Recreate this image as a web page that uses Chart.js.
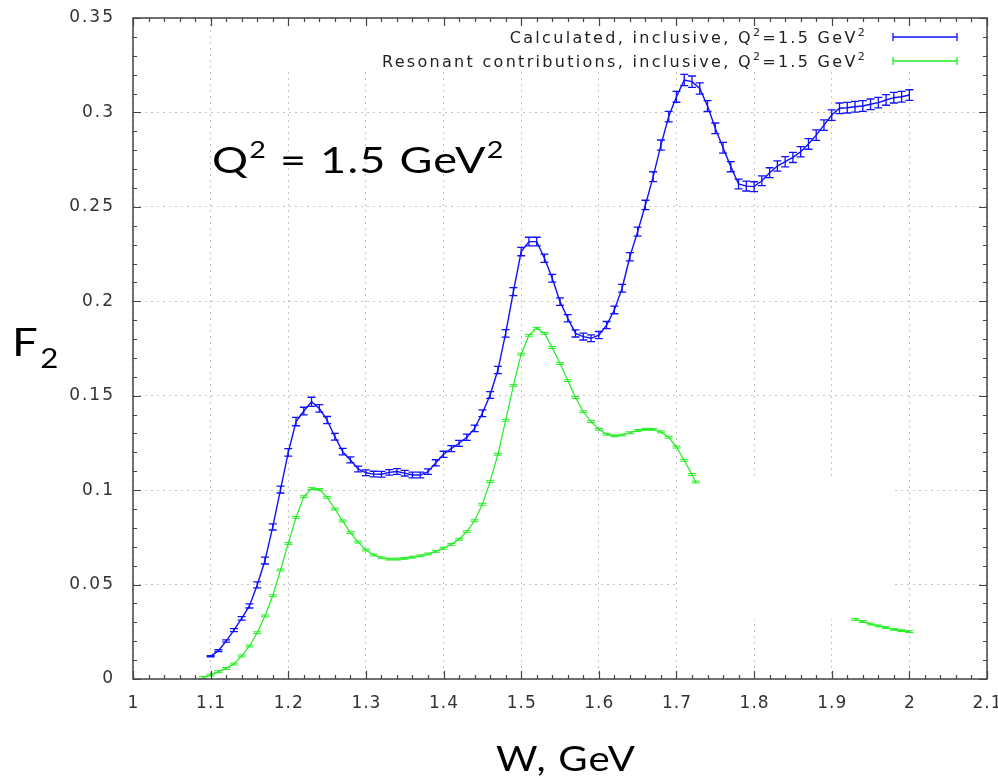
<!DOCTYPE html>
<html>
<head>
<meta charset="utf-8">
<script src="https://cdn.jsdelivr.net/npm/chart.js@4.4.1/dist/chart.umd.min.js"></script>
<style>
  html, body { margin: 0; padding: 0; background: #fff; }
  #wrap { width: 998px; height: 777px; position: relative; }
</style>
</head>
<body>
<div id="wrap"><canvas id="f2chart"></canvas></div>
<script>
// W values (GeV) where the inclusive structure function was calculated
const wCalc = [
  1.10, 1.11, 1.12, 1.13, 1.14, 1.15, 1.16, 1.17, 1.18, 1.19,
  1.20, 1.21, 1.22, 1.23, 1.24, 1.25, 1.26, 1.27, 1.28, 1.29,
  1.30, 1.31, 1.32, 1.33, 1.34, 1.35, 1.36, 1.37, 1.38, 1.39,
  1.40, 1.41, 1.42, 1.43, 1.44, 1.45, 1.46, 1.47, 1.48, 1.49,
  1.50, 1.51, 1.52, 1.53, 1.54, 1.55, 1.56, 1.57, 1.58, 1.59,
  1.60, 1.61, 1.62, 1.63, 1.64, 1.65, 1.66, 1.67, 1.68, 1.69,
  1.70, 1.71, 1.72, 1.73, 1.74, 1.75, 1.76, 1.77, 1.78, 1.79,
  1.80, 1.81, 1.82, 1.83, 1.84, 1.85, 1.86, 1.87, 1.88, 1.89,
  1.90, 1.91, 1.92, 1.93, 1.94, 1.95, 1.96, 1.97, 1.98, 1.99,
  2.00
];
// calculated F2, inclusive, Q^2 = 1.5 GeV^2
const f2Calc = [
  0.0120, 0.0150, 0.0201, 0.0259, 0.0321, 0.0387, 0.0498, 0.0627, 0.0805, 0.1003,
  0.1200, 0.1363, 0.1419, 0.1468, 0.1433, 0.1371, 0.1283, 0.1204, 0.1160, 0.1112,
  0.1092, 0.1085, 0.1084, 0.1094, 0.1099, 0.1090, 0.1080, 0.1080, 0.1098, 0.1145,
  0.1190, 0.1220, 0.1248, 0.1280, 0.1327, 0.1407, 0.1504, 0.1636, 0.1830, 0.2051,
  0.2263, 0.2316, 0.2316, 0.2228, 0.2122, 0.1998, 0.1910, 0.1830, 0.1813, 0.1804,
  0.1821, 0.1874, 0.1954, 0.2069, 0.2236, 0.2369, 0.2510, 0.2660, 0.2827, 0.2978,
  0.3083, 0.3172, 0.3163, 0.3127, 0.3034, 0.2916, 0.2813, 0.2713, 0.2621, 0.2610,
  0.2607, 0.2638, 0.2681, 0.2716, 0.2739, 0.2762, 0.2792, 0.2833, 0.2880, 0.2933,
  0.2986, 0.3022, 0.3025, 0.3030, 0.3034, 0.3043, 0.3052, 0.3066, 0.3078, 0.3083,
  0.3092
];
// +/- uncertainty on the calculated F2
const f2CalcErr = [
  0.0003, 0.0005, 0.0006, 0.0008, 0.0009, 0.0011, 0.0016, 0.0018, 0.0016, 0.0018,
  0.0020, 0.0022, 0.0020, 0.0024, 0.0020, 0.0019, 0.0018, 0.0017, 0.0016, 0.0015,
  0.0015, 0.0015, 0.0015, 0.0015, 0.0015, 0.0015, 0.0015, 0.0015, 0.0015, 0.0016,
  0.0016, 0.0016, 0.0016, 0.0017, 0.0017, 0.0018, 0.0018, 0.0019, 0.0020, 0.0021,
  0.0022, 0.0023, 0.0023, 0.0022, 0.0021, 0.0020, 0.0019, 0.0019, 0.0018, 0.0018,
  0.0019, 0.0019, 0.0020, 0.0021, 0.0022, 0.0024, 0.0025, 0.0026, 0.0027, 0.0028,
  0.0029, 0.0030, 0.0030, 0.0030, 0.0029, 0.0028, 0.0028, 0.0027, 0.0026, 0.0026,
  0.0026, 0.0026, 0.0026, 0.0027, 0.0027, 0.0027, 0.0027, 0.0028, 0.0028, 0.0028,
  0.0028, 0.0028, 0.0028, 0.0028, 0.0028, 0.0028, 0.0028, 0.0028, 0.0028, 0.0028,
  0.0028
];

// resonant contributions: low-W branch
const wResLow = [
  1.09, 1.10, 1.11, 1.12, 1.13, 1.14, 1.15, 1.16, 1.17, 1.18, 1.19,
  1.20, 1.21, 1.22, 1.23, 1.24, 1.25, 1.26, 1.27, 1.28, 1.29,
  1.30, 1.31, 1.32, 1.33, 1.34, 1.35, 1.36, 1.37, 1.38, 1.39,
  1.40, 1.41, 1.42, 1.43, 1.44, 1.45, 1.46, 1.47, 1.48, 1.49,
  1.50, 1.51, 1.52, 1.53, 1.54, 1.55, 1.56, 1.57, 1.58, 1.59,
  1.60, 1.61, 1.62, 1.63, 1.64, 1.65, 1.66, 1.67, 1.68, 1.69,
  1.70, 1.71, 1.72, 1.725
];
const f2ResLow = [
  0.0009, 0.0021, 0.0039, 0.0056, 0.0079, 0.0122, 0.0175, 0.0245, 0.0334, 0.0441, 0.0577,
  0.0718, 0.0856, 0.0965, 0.1008, 0.1004, 0.0962, 0.0900, 0.0837, 0.0775, 0.0725,
  0.0683, 0.0657, 0.0642, 0.0635, 0.0635, 0.0639, 0.0645, 0.0652, 0.0662, 0.0676,
  0.0692, 0.0713, 0.0740, 0.0780, 0.0838, 0.0925, 0.1045, 0.1190, 0.1370, 0.1555,
  0.1720, 0.1820, 0.1857, 0.1830, 0.1755, 0.1670, 0.1580, 0.1490, 0.1415, 0.1363,
  0.1322, 0.1296, 0.1287, 0.1292, 0.1304, 0.1316, 0.1322, 0.1322, 0.1308, 0.1280,
  0.1228, 0.1158, 0.1083, 0.1043
];
// resonant contributions: high-W branch
const wResHigh = [1.93, 1.94, 1.95, 1.96, 1.97, 1.98, 1.99, 2.00];
const f2ResHigh = [0.0316, 0.0304, 0.0291, 0.0281, 0.0272, 0.0263, 0.0256, 0.0251];
const resErr = 0.0005;

// axis ticks
const wTicks = [1, 1.1, 1.2, 1.3, 1.4, 1.5, 1.6, 1.7, 1.8, 1.9, 2, 2.1];
const f2Ticks = [0, 0.05, 0.1, 0.15, 0.2, 0.25, 0.3, 0.35];

// region of the frame left empty (no grid behind it)
const blankW = [1.702, 1.981];
const blankF2 = [0.0318, 0.1064];

const BLUE = '#1010ff';
const GREEN = '#20ee20';
const TICK_FONT = '17px "DejaVu Sans"';

const toPoints = (xs, ys) => xs.map((x, i) => ({ x: x, y: ys[i] }));
const fmt = v => String(Math.round(v * 100) / 100);

// white fill behind the legend and the empty block
const clearPlugin = {
  id: 'clearAreas',
  beforeDraw(chart) {
    const ctx = chart.ctx;
    ctx.save();
    ctx.fillStyle = '#fff';
    ctx.fillRect(0, 0, chart.width, chart.height);
    ctx.restore();
  },
  beforeDatasetsDraw(chart) {
    const { ctx, scales: { x, y } } = chart;
    ctx.save();
    ctx.fillStyle = '#fff';
    ctx.fillRect(250, 19, 735, 53);
    const x0 = x.getPixelForValue(blankW[0]), x1 = x.getPixelForValue(blankW[1]);
    const y0 = y.getPixelForValue(blankF2[1]), y1 = y.getPixelForValue(blankF2[0]);
    ctx.fillRect(x0, y0, x1 - x0, y1 - y0);
    ctx.restore();
  }
};

// vertical error bars with caps
const errorBarPlugin = {
  id: 'errorBars',
  afterDatasetsDraw(chart) {
    const { ctx, scales: { x, y } } = chart;
    chart.data.datasets.forEach(ds => {
      if (ds.errors == null) return;
      ctx.save();
      ctx.strokeStyle = ds.borderColor;
      ctx.lineWidth = ds.barWidth || 1.2;
      ds.data.forEach((p, i) => {
        const e = Array.isArray(ds.errors) ? ds.errors[i] : ds.errors;
        if (p.y == null || !e) return;
        const px = x.getPixelForValue(p.x);
        const top = y.getPixelForValue(p.y + e);
        const bot = y.getPixelForValue(p.y - e);
        const cw = ds.capHalf;
        ctx.beginPath();
        ctx.moveTo(px, top); ctx.lineTo(px, bot);
        ctx.moveTo(px - cw, top); ctx.lineTo(px + cw, top);
        ctx.moveTo(px - cw, bot); ctx.lineTo(px + cw, bot);
        ctx.stroke();
      });
      ctx.restore();
    });
  }
};

// strings made of normal / raised / lowered pieces
function richWidth(ctx, parts) {
  let w = 0;
  parts.forEach(p => { ctx.font = p.font; w += ctx.measureText(p.t).width; });
  return w;
}
function drawRich(ctx, parts, x, y, sx) {
  ctx.save();
  ctx.translate(x, y);
  ctx.scale(sx || 1, 1);
  let cx = 0;
  parts.forEach(p => {
    ctx.font = p.font;
    ctx.fillText(p.t, cx, p.dy || 0);
    cx += ctx.measureText(p.t).width;
  });
  ctx.restore();
}

// frame with inward major and minor ticks, tick labels, legend and titles
const framePlugin = {
  id: 'frameAndText',
  afterDraw(chart) {
    const { ctx, chartArea: a, scales: { x, y } } = chart;
    ctx.save();
    ctx.strokeStyle = '#444';
    ctx.lineWidth = 1.5;
    ctx.strokeRect(a.left, a.top, a.right - a.left, a.bottom - a.top);

    ctx.lineWidth = 1.2;
    ctx.beginPath();
    // x ticks every 0.02, major every 0.1
    for (let k = 0; k <= 55; k++) {
      const px = Math.round(x.getPixelForValue(1 + k * 0.02)) + 0.5;
      const len = k % 5 === 0 ? 8 : 4;
      ctx.moveTo(px, a.bottom); ctx.lineTo(px, a.bottom - len);
      ctx.moveTo(px, a.top); ctx.lineTo(px, a.top + len);
    }
    // y ticks every 0.01, major every 0.05
    for (let k = 0; k <= 35; k++) {
      const py = Math.round(y.getPixelForValue(k * 0.01)) + 0.5;
      const len = k % 5 === 0 ? 8 : 4;
      ctx.moveTo(a.left, py); ctx.lineTo(a.left + len, py);
      ctx.moveTo(a.right, py); ctx.lineTo(a.right - len, py);
    }
    ctx.stroke();

    // tick labels
    ctx.fillStyle = '#333';
    ctx.font = TICK_FONT;
    ctx.letterSpacing = '1px';
    ctx.textAlign = 'center';
    ctx.textBaseline = 'top';
    wTicks.forEach(v => ctx.fillText(fmt(v), x.getPixelForValue(v) + 0.5, 695));
    ctx.letterSpacing = '2px';
    ctx.textAlign = 'right';
    ctx.textBaseline = 'middle';
    f2Ticks.forEach(v => ctx.fillText(fmt(v), 115, y.getPixelForValue(v)));

    // legend
    const lf = '16px "DejaVu Sans"', sf = '11px "DejaVu Sans"';
    const entries = [
      { color: BLUE, cy: 37, parts: [
        { t: 'Calculated, inclusive, Q', font: lf }, { t: '2', font: sf, dy: -7 },
        { t: '=1.5 GeV', font: lf }, { t: '2', font: sf, dy: -7 }] },
      { color: GREEN, cy: 61, parts: [
        { t: 'Resonant contributions, inclusive, Q', font: lf }, { t: '2', font: sf, dy: -7 },
        { t: '=1.5 GeV', font: lf }, { t: '2', font: sf, dy: -7 }] }
    ];
    ctx.fillStyle = '#222';
    ctx.letterSpacing = '2.3px';
    ctx.textBaseline = 'alphabetic';
    ctx.textAlign = 'left';
    entries.forEach(en => {
      const w = richWidth(ctx, en.parts);
      drawRich(ctx, en.parts, 867 - w, en.cy + 6);
      ctx.strokeStyle = en.color;
      ctx.lineWidth = 1.3;
      ctx.beginPath();
      ctx.moveTo(893, en.cy); ctx.lineTo(957, en.cy);
      ctx.moveTo(893, en.cy - 4); ctx.lineTo(893, en.cy + 4);
      ctx.moveTo(957, en.cy - 4); ctx.lineTo(957, en.cy + 4);
      ctx.stroke();
    });

    // in-plot annotation and axis titles
    ctx.fillStyle = '#000';
    ctx.letterSpacing = '1px';
    const big = '36px Lato', bigSup = '23px Lato';
    drawRich(ctx, [
      { t: 'Q', font: big }, { t: '2', font: bigSup, dy: -15 },
      { t: ' = 1.5 GeV', font: big }, { t: '2', font: bigSup, dy: -15 }
    ], 212, 173, 1.25);
    ctx.letterSpacing = '2px';
    drawRich(ctx, [
      { t: 'F', font: '38px Lato' }, { t: '2', font: '26px Lato', dy: 12 }
    ], 12, 356, 1.2);
    ctx.letterSpacing = '1px';
    ctx.font = '34px Lato';
    const tw = ctx.measureText('W, GeV').width * 1.18;
    drawRich(ctx, [{ t: 'W, GeV', font: '34px Lato' }], 566 - tw / 2, 771, 1.18);
    ctx.restore();
  }
};

new Chart(document.getElementById('f2chart'), {
  type: 'line',
  data: {
    datasets: [
      {
        label: 'Calculated, inclusive',
        data: toPoints(wCalc, f2Calc),
        errors: f2CalcErr,
        capHalf: 4,
        barWidth: 1.3,
        borderColor: BLUE,
        borderWidth: 1.4,
        pointRadius: 0,
        tension: 0
      },
      {
        label: 'Resonant contributions, inclusive',
        data: toPoints(wResLow, f2ResLow),
        errors: resErr,
        capHalf: 4,
        barWidth: 1,
        borderColor: GREEN,
        borderWidth: 1.2,
        pointRadius: 0,
        tension: 0
      },
      {
        label: 'Resonant contributions, inclusive (high W)',
        data: toPoints(wResHigh, f2ResHigh),
        errors: resErr,
        capHalf: 4,
        barWidth: 1,
        borderColor: GREEN,
        borderWidth: 1.2,
        pointRadius: 0,
        tension: 0
      }
    ]
  },
  options: {
    responsive: true,
    maintainAspectRatio: false,
    animation: false,
    devicePixelRatio: 1,
    layout: { padding: { top: 18, right: 11, left: 0, bottom: 0 } },
    plugins: {
      legend: { display: false },
      tooltip: { enabled: false }
    },
    scales: {
      x: {
        type: 'linear',
        min: 1,
        max: 2.1,
        afterBuildTicks: s => { s.ticks = wTicks.map(v => ({ value: v })); },
        afterFit: s => { s.height = 98; s.paddingLeft = 0; s.paddingRight = 0; },
        ticks: { display: false },
        grid: { color: '#c4c4c4', lineWidth: 1, drawTicks: false },
        border: { display: false, dash: [2, 4] }
      },
      y: {
        type: 'linear',
        min: 0,
        max: 0.35,
        afterBuildTicks: s => { s.ticks = f2Ticks.map(v => ({ value: v })); },
        afterFit: s => { s.width = 133; s.paddingTop = 0; s.paddingBottom = 0; },
        ticks: { display: false },
        grid: { color: '#c4c4c4', lineWidth: 1, drawTicks: false },
        border: { display: false, dash: [2, 4] }
      }
    }
  },
  plugins: [clearPlugin, errorBarPlugin, framePlugin]
});
</script>
</body>
</html>
